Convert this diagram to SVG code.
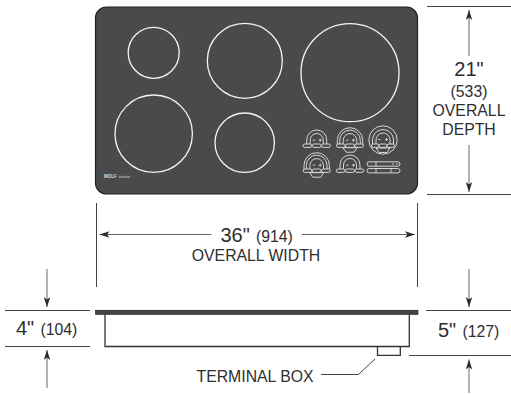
<svg xmlns="http://www.w3.org/2000/svg" width="511" height="394" viewBox="0 0 511 394">
<defs>
<marker id="ah" markerWidth="11" markerHeight="7" refX="10" refY="3.250" orient="auto" markerUnits="userSpaceOnUse"><path d="M0,0 L10,3.250 L0,6.500 L2.500,3.250 Z" fill="#2a2a2a"/></marker>
<g id="pm"><path d="M-4,-5.500H-1.500M2,-5.500H5M3.500,-7V-4" class="t"/></g>
<g id="k3"><path d="M-10,0V-5.700A10,10 0 0 1 10,-5.700V0M-6.500,0V-5.700A6.500,6.500 0 0 1 6.500,-5.700V0" class="w"/><use href="#pm"/><rect x="-13.700" y="-1.700" width="8.700" height="3.400" rx="1.700" class="p"/><rect x="-4.500" y="-1.700" width="9" height="3.400" rx="1.700" class="p"/><rect x="5" y="-1.700" width="8.700" height="3.400" rx="1.700" class="p"/></g>
<g id="k4"><path d="M-12.700,0V-5.300A12.700,12.700 0 0 1 12.700,-5.300V0M-10.300,0V-5.300A10.300,10.300 0 0 1 10.300,-5.300V0M-6.800,0V-5.300A6.800,6.800 0 0 1 6.800,-5.300V0" class="w"/><use href="#pm"/><rect x="-13.500" y="-1.700" width="8.700" height="3.400" rx="1.700" class="p"/><rect x="-4.500" y="-1.700" width="9" height="3.400" rx="1.700" class="p"/><rect x="4.800" y="-1.700" width="8.700" height="3.400" rx="1.700" class="p"/><path d="M-7,2H7L4,6.500H-4Z" class="p"/></g>
</defs>
<style>
text{font-family:"Liberation Sans",Arial,sans-serif;fill:#2e2e2e}
.b{font-size:20px}.m{font-size:15.800px}
.d{stroke:#444;stroke-width:1;fill:none}
.a{stroke:#666;stroke-width:1;fill:none;marker-end:url(#ah)}
.w{fill:none;stroke:#e4e4e4;stroke-width:.9}
.p{fill:#4a4a4c;stroke:#e4e4e4;stroke-width:.9}
.t{fill:none;stroke:#e4e4e4;stroke-width:.8}
.c{fill:none;stroke:#f4f4f4;stroke-width:1.300}
</style>
<g id="cooktop-top">
<rect x="95.500" y="7" width="322" height="187" rx="11" fill="#4a4a4c" stroke="#222" stroke-width="1.200"/>
<circle class="c" cx="153.700" cy="52.800" r="25.500"/>
<circle class="c" cx="244.800" cy="60.800" r="37.500"/>
<circle class="c" cx="350" cy="72.700" r="49"/>
<circle class="c" cx="153.700" cy="133.700" r="38.700"/>
<circle class="c" cx="244.700" cy="142.700" r="29.700"/>
<text x="104" y="178" style="font-size:4.500px;font-weight:bold;fill:#ddd">MOLF<tspan style="font-size:2.800px;font-weight:normal" dx="2">Induction</tspan></text>
</g>
<g id="controls">
<use href="#k3" x="316.700" y="145.700"/>
<use href="#k4" x="350" y="145.700"/>
<g transform="translate(383,140)"><circle r="14.200" class="w"/><path d="M-10.500,5.700V0A10.500,10.500 0 0 1 10.500,0V5.700M-7,5.700V0A7,7 0 0 1 7,0V5.700" class="w"/><path d="M-5,-0.500H-2.500M2,-0.500H5M3.500,-2V1" class="t"/><rect x="-11.500" y="4" width="7.500" height="3.400" rx="1.700" class="p"/><rect x="-4" y="4" width="8" height="3.400" rx="1.700" class="p"/><rect x="4" y="4" width="7.500" height="3.400" rx="1.700" class="p"/><path d="M-7,8H7L4,12.500H-4Z" class="p"/></g>
<use href="#k4" x="316.700" y="170.700"/>
<use href="#k3" x="350" y="170.700"/>
<g class="w"><rect x="367" y="161.800" width="33" height="4.400" rx="2.200"/><rect x="367" y="168.500" width="33" height="4.400" rx="2.200"/><path d="M376,161.800V166.200M376,168.500V172.900M391,168.500V172.900M393,163V165M397,163V165"/></g>
</g>
<g id="cooktop-side">
<rect x="95.500" y="310.200" width="322.500" height="4.300" fill="#444" stroke="#222" stroke-width=".6"/>
<path d="M105,314.500V346.500H409.300V314.500" fill="none" stroke="#333" stroke-width="1.300"/>
<path d="M377.500,346.500V355.300H400.300V346.500" fill="none" stroke="#333" stroke-width="1.300"/>
</g>
<g id="connectors">
<path class="d" d="M427,6.500H511M427,194.500H511"/>
<path class="a" d="M469,56V10"/><path class="a" d="M469,145V192"/>
<path class="d" d="M96.500,203V287M417.500,203V287"/>
<path class="a" d="M211.500,234.500H99.500"/><path class="a" d="M302,234.500H415"/>
<path class="d" d="M5,310.500H90M5,346.500H90"/>
<path class="a" d="M47,269V307"/><path class="a" d="M47,388V350"/>
<path class="d" d="M426,310.500H511M409,355.500H511"/>
<path class="a" d="M469,269V307"/><path class="a" d="M469,393V359.500"/>
<path class="d" d="M321,374.500H358.500L375,359"/>
</g>
<g id="labels">
<text class="b" x="469" y="76" text-anchor="middle">21"</text>
<text class="m" x="469" y="97" text-anchor="middle">(533)</text>
<text class="m" x="469" y="116" text-anchor="middle">OVERALL</text>
<text class="m" x="469" y="135" text-anchor="middle">DEPTH</text>
<text x="220.500" y="241.500"><tspan class="b">36"</tspan><tspan class="m" x="256">(914)</tspan></text>
<text class="m" x="256" y="261" text-anchor="middle">OVERALL WIDTH</text>
<text x="16" y="335"><tspan class="b">4"</tspan><tspan class="m" x="40.500">(104)</tspan></text>
<text x="438" y="336.500"><tspan class="b">5"</tspan><tspan class="m" x="462.500">(127)</tspan></text>
<text class="m" x="196.500" y="381.500">TERMINAL BOX</text>
</g>
</svg>
